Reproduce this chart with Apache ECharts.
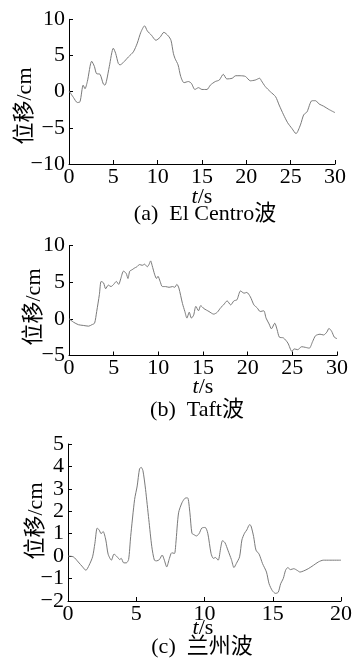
<!DOCTYPE html>
<html>
<head>
<meta charset="utf-8">
<script src="https://cdn.jsdelivr.net/npm/echarts@6/dist/echarts.min.js"></script>
<style>
html,body{margin:0;padding:0;background:#fff;}
#c{width:355px;height:663px;}
</style>
</head>
<body>
<div id="c"></div>
<script>
// ---- data ----
var elCentroT = [0,0.5,0.94,1.24,1.6,1.8,2.07,2.56,2.86,3.1,3.5,3.87,4.06,4.25,4.55,5.0,5.26,5.56,5.75,6.1,6.7,7.26,7.7,8.1,8.53,8.83,9.3,9.8,10.26,10.7,11.2,11.5,11.77,11.95,12.3,12.6,12.97,13.46,13.8,14.2,14.6,15.0,15.56,15.94,16.5,16.95,17.4,17.8,18.4,18.8,19.3,19.9,20.45,21.0,21.5,21.7,22.14,22.7,23.3,23.7,24.2,24.66,25.15,25.6,26.1,26.47,26.84,27.4,27.8,28.2,28.7,29.3,30.0];
var elCentroV = [0.1,-0.8,-1.5,-1.4,0.9,0.4,1.4,4.2,3.5,2.5,2.4,1.06,0.9,1.6,3.5,6.0,5.3,3.9,3.7,4.0,4.8,5.5,6.7,8.2,9.1,8.4,7.8,7.1,7.5,8.2,7.7,7.1,5.3,4.6,3.7,2.1,1.24,1.4,1.15,0.3,0.55,0.3,0.3,0.9,1.4,1.6,2.4,1.76,1.85,2.2,2.2,2.1,1.5,1.6,1.85,1.5,0.7,0,-0.7,-1.85,-3.2,-4.3,-5.1,-5.8,-4.6,-3.2,-2.8,-1.25,-1.25,-1.7,-2.0,-2.45,-2.9];

var taftT = [0,0.5,1.05,1.6,2.2,2.56,2.86,3.1,3.4,3.6,3.87,4.1,4.4,4.7,5.0,5.3,5.56,5.8,6.1,6.4,6.6,6.8,7.07,7.3,7.6,7.9,8.2,8.46,8.76,8.95,9.14,9.3,9.6,9.8,9.96,10.2,10.45,10.8,11.2,11.6,11.84,12.07,12.3,12.7,12.97,13.2,13.46,13.7,13.95,14.2,14.5,14.74,15.1,15.67,16.2,16.6,17.0,17.3,17.7,18.1,18.46,18.8,19.2,19.6,19.9,20.3,20.7,21.06,21.4,21.8,22.06,22.4,22.66,23.03,23.3,23.55,24.0,24.5,24.96,25.2,25.6,26.05,26.5,26.9,27.27,27.6,28.1,28.5,28.87,29.1,29.4,29.7,30.0];
var taftV = [0,-0.45,-0.8,-0.9,-1.0,-0.8,-0.6,1.0,3.3,5.1,4.9,4.1,4.6,4.4,4.7,5.1,4.7,5.5,6.5,6.2,5.5,6.5,6.7,6.9,7.1,7.4,7.3,7.45,7.1,7.4,7.9,7.3,6.0,5.5,5.8,5.1,4.4,4.4,4.3,4.4,4.3,4.7,4.2,2.1,1.0,0.1,0.9,0.1,0.5,1.7,1.1,1.8,1.4,1.0,0.64,0.9,1.55,1.9,2.45,1.9,2.45,2.6,3.8,3.5,3.6,3.0,1.9,1.5,1.0,1.1,0.1,-0.7,-1.36,-0.6,-1.5,-2.5,-2.6,-3.3,-4.45,-4.1,-4.2,-3.8,-3.9,-4.0,-3.1,-2.3,-2.1,-2.2,-1.8,-1.3,-1.7,-2.5,-2.7];

var lanzhouT = [0,0.39,0.75,1.07,1.31,1.55,1.8,1.97,2.14,2.28,2.43,2.57,2.77,2.94,3.18,3.37,3.6,3.79,3.9,4.08,4.27,4.44,4.59,4.88,5.07,5.24,5.36,5.49,5.68,5.92,6.14,6.33,6.5,6.7,6.9,7.06,7.23,7.43,7.6,7.8,7.9,8.1,8.35,8.57,8.76,8.93,9.08,9.25,9.4,9.6,9.8,10.05,10.24,10.48,10.65,10.8,11.0,11.2,11.32,11.5,11.73,11.97,12.16,12.33,12.57,12.74,12.93,13.1,13.3,13.4,13.6,13.77,14.0,14.25,14.54,14.73,14.97,15.2,15.4,15.58,15.77,15.94,16.1,16.3,16.54,16.78,17.0,17.26,17.6,17.98,18.34,18.7,19.18,20.0];
var lanzhouV = [0,-0.03,-0.26,-0.48,-0.63,-0.4,-0.03,0.57,1.25,1.17,1.0,1.1,0.72,0.09,-0.18,0.09,-0.03,-0.15,-0.1,-0.3,-0.3,-0.15,0.87,2.53,3.13,3.89,3.96,3.81,2.98,1.63,0.42,-0.18,-0.21,-0.15,0.05,-0.18,-0.48,-0.1,0.15,0.12,0.57,1.93,2.38,2.58,2.6,1.93,1.02,0.95,0.9,1.0,1.25,1.28,1.02,0.12,-0.1,-0.06,-0.18,0.42,0.69,0.6,0.24,-0.15,-0.51,-0.33,-0.03,0.72,1.02,1.17,1.4,1.36,0.87,0.27,0.09,-0.33,-0.71,-1.23,-1.54,-1.66,-1.61,-1.23,-1.0,-0.63,-0.51,-0.6,-0.56,-0.63,-0.71,-0.66,-0.56,-0.41,-0.26,-0.18,-0.18,-0.18];

var xTicks1 = {min:0, max:30, interval:5};
var xTicks3 = {min:0, max:20, interval:5};
var yTicks1 = {min:-10, max:10, interval:5};
var yTicks2 = {min:-5, max:10, interval:5};
var yTicks3 = {min:-2, max:5, interval:1};

var captions = ['(a)  El Centro\u6ce2', '(b)  Taft\u6ce2', '(c)  \u5170\u5dde\u6ce2'];
var yName = '\u4f4d\u79fb/cm';
var xName = '{i|t}/s';

function zip(t, v){ return t.map(function(x,i){ return [x, v[i]]; }); }

var SERIF = '"Liberation Serif","Times New Roman","Noto Sans CJK SC",serif';
var FS = 22;

function xAxis(idx, tk){
  return {
    type:'value', gridIndex:idx, min:tk.min, max:tk.max, interval:tk.interval,
    axisLine:{show:true, onZero:false, lineStyle:{color:'#000', width:1}},
    axisTick:{show:true, inside:true, length:4, lineStyle:{color:'#000'}},
    axisLabel:{color:'#000', fontFamily:SERIF, fontSize:FS, margin:2},
    splitLine:{show:false}
  };
}
function yAxis(idx, tk){
  return {
    type:'value', gridIndex:idx, min:tk.min, max:tk.max, interval:tk.interval,
    axisLine:{show:true, onZero:false, lineStyle:{color:'#000', width:1}},
    axisTick:{show:true, inside:true, length:4, lineStyle:{color:'#000'}},
    axisLabel:{color:'#000', fontFamily:SERIF, fontSize:FS, margin:4,
      formatter:function(v){ return String(v).replace('-', '\u2212'); }},
    splitLine:{show:false}
  };
}
function line(idx, data){
  return {type:'line', xAxisIndex:idx, yAxisIndex:idx, data:data, showSymbol:false,
    symbol:'none', smooth:0.25, lineStyle:{color:'#7a7a7a', width:1}, animation:false};
}
function txt(x, y, s, rot){
  return {type:'text', x:x, y:y, rotation:rot||0,
    style:{text:s, x:0, y:0, fill:'#000', font:FS+'px '+SERIF, textAlign:'center', textVerticalAlign:'middle',
      rich:{i:{fontStyle:'italic', fontFamily:SERIF, fontSize:FS, fill:'#000'}}}};
}

var chart = echarts.init(document.getElementById('c'), null, {renderer:'canvas'});
chart.setOption({
  backgroundColor:'#fff',
  animation:false,
  grid:[
    {left:69, top:19.3, width:266, height:144.7},
    {left:69, top:245.5, width:268, height:110},
    {left:68, top:444, width:276.5, height:157}
  ],
  xAxis:[xAxis(0,xTicks1), xAxis(1,xTicks1), xAxis(2,xTicks3)],
  yAxis:[yAxis(0,yTicks1), yAxis(1,yTicks2), yAxis(2,yTicks3)],
  series:[line(0, zip(elCentroT, elCentroV)), line(1, zip(taftT, taftV)), line(2, zip(lanzhouT, lanzhouV))],
  graphic:[
    txt(202, 197, xName),
    txt(203, 387, xName),
    txt(203, 628, xName),
    txt(205, 214, captions[0]),
    txt(197, 410, captions[1]),
    txt(202, 647, captions[2]),
    txt(25, 106, yName, Math.PI/2),
    txt(34, 307, yName, Math.PI/2),
    txt(36, 521, yName, Math.PI/2)
  ]
});
</script>
</body>
</html>
